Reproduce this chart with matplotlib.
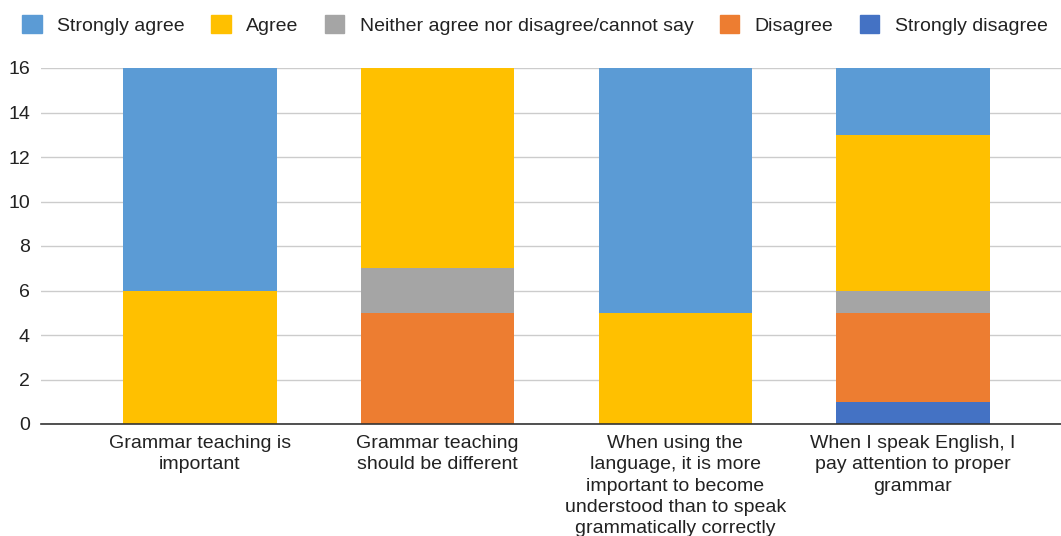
import matplotlib.pyplot as plt
from matplotlib.patches import Patch
import numpy as np

plt.rcParams['font.family'] = ['Liberation Sans', 'DejaVu Sans']

categories = [
    "Grammar teaching is\nimportant",
    "Grammar teaching\nshould be different",
    "When using the\nlanguage, it is more\nimportant to become\nunderstood than to speak\ngrammatically correctly",
    "When I speak English, I\npay attention to proper\ngrammar",
]
series_names = ["Strongly agree", "Agree", "Neither agree nor disagree/cannot say",
                "Disagree", "Strongly disagree"]
colors = ["#5B9BD5", "#FFC000", "#A5A5A5", "#ED7D31", "#4472C4"]

strongly_agree = [10, 0, 11, 3]
agree = [6, 9, 5, 7]
neither = [0, 2, 0, 1]
disagree = [0, 5, 0, 4]
strongly_disagree = [0, 0, 0, 1]

# stacking order from bottom up
stack = [strongly_disagree, disagree, neither, agree, strongly_agree]
stack_colors = colors[::-1]

fig = plt.figure(figsize=(10.61, 5.36), dpi=100)
ax = fig.add_axes([41/1061, (536-424)/536, 1 - 41/1061, (424-68)/536])

x = np.arange(len(categories))
bottom = np.zeros(len(categories))
for vals, c in zip(stack, stack_colors):
    ax.bar(x, vals, width=0.645, bottom=bottom, color=c, zorder=3)
    bottom += np.array(vals)

ax.set_ylim(0, 16)
ax.set_xlim(-0.669, 3.623)
ax.set_yticks(range(0, 17, 2))
ax.set_xticks(x)
ax.set_xticklabels(categories, fontsize=14, color='#222222', linespacing=1.33)
ax.tick_params(axis='y', labelsize=14, colors='#222222', length=0, pad=8)
ax.tick_params(axis='x', length=0, pad=8)
ax.grid(axis='y', color='#cccccc', linewidth=1, zorder=0)
for s in ['top', 'right', 'left']:
    ax.spines[s].set_visible(False)
ax.spines['bottom'].set_color('#333333')
ax.spines['bottom'].set_linewidth(1.2)
ax.spines['bottom'].set_zorder(4)

handles = [Patch(facecolor=c, edgecolor=c) for c in colors]
fig.legend(handles, series_names, loc='center', bbox_to_anchor=(535/1061, 1 - 25/536),
           ncol=5, frameon=False, fontsize=14, handlelength=1.0, handleheight=1.0,
           handletextpad=0.8, columnspacing=1.35, labelcolor='#222222')

fig.savefig('out.png', dpi=100)
